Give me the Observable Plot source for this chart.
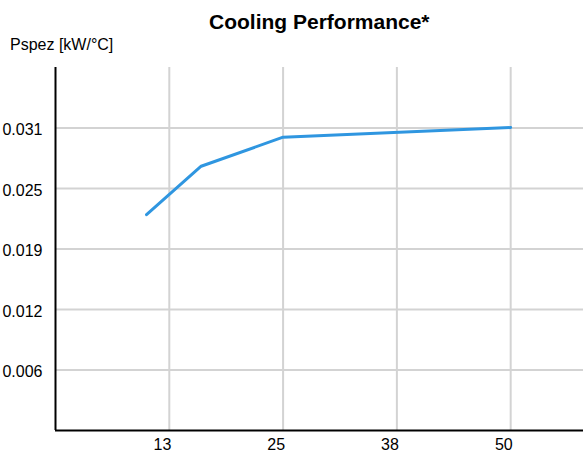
<!DOCTYPE html>
<html><head><meta charset="utf-8">
<script src="https://cdn.jsdelivr.net/npm/d3@7"></script>
<script src="https://cdn.jsdelivr.net/npm/@observablehq/plot@0.6"></script>
<style>
body{margin:0;background:#fff;}
#wrap{position:relative;width:583px;height:457px;font-family:"Liberation Sans",Arial,sans-serif;}
#title{position:absolute;left:209px;top:10px;white-space:nowrap;font-weight:bold;font-size:21px;line-height:24px;color:#000;}
#ylab{position:absolute;left:10px;top:36px;white-space:nowrap;font-size:16px;line-height:18px;color:#000;}
#chart{position:absolute;left:0;top:0;}
</style></head>
<body><div id="wrap"><div id="chart"></div><div id="title">Cooling Performance*</div><div id="ylab">Pspez [kW/°C]</div></div>
<script>
const temps = [10, 16, 25, 50];
const pspez = [0.0223, 0.0273, 0.0303, 0.0313];
const xTicks = [12.5, 25, 37.5, 50];
const xTickLabels = ["13", "25", "38", "50"];
const yTicks = [0.00625, 0.0125, 0.01875, 0.025, 0.03125];
const yTickLabels = ["0.006", "0.012", "0.019", "0.025", "0.031"];
const data = temps.map((t, i) => ({t, p: pspez[i]}));
const grid = {stroke: "#d3d3d3", strokeOpacity: 1, strokeWidth: 2};
const chart = Plot.plot({
  width: 583, height: 457,
  marginLeft: 55, marginRight: 0, marginTop: 67, marginBottom: 27,
  style: {fontFamily: "'Liberation Sans', Arial, sans-serif", fontSize: "16px", color: "#000", background: "transparent"},
  x: {domain: [0, 58]},
  y: {domain: [0, 0.0375]},
  marks: [
    Plot.gridX(xTicks, grid),
    Plot.gridY(yTicks, grid),
    Plot.axisX(xTicks, {tickSize: 0, tickPadding: 8, label: null, tickFormat: d => xTickLabels[xTicks.indexOf(d)], fontSize: 16, textAnchor: "end", dx: 2}),
    Plot.axisY(yTicks, {tickSize: 0, tickPadding: 13, label: null, tickFormat: d => yTickLabels[yTicks.indexOf(d)], fontSize: 16, dy: 2}),
    Plot.ruleX([0], {stroke: "#000", strokeWidth: 2}),
    Plot.ruleY([0], {stroke: "#000", strokeWidth: 2}),
    Plot.line(data, {x: "t", y: "p", stroke: "#2f96e0", strokeWidth: 3})
  ]
});
document.getElementById("chart").appendChild(chart);
</script></body></html>
